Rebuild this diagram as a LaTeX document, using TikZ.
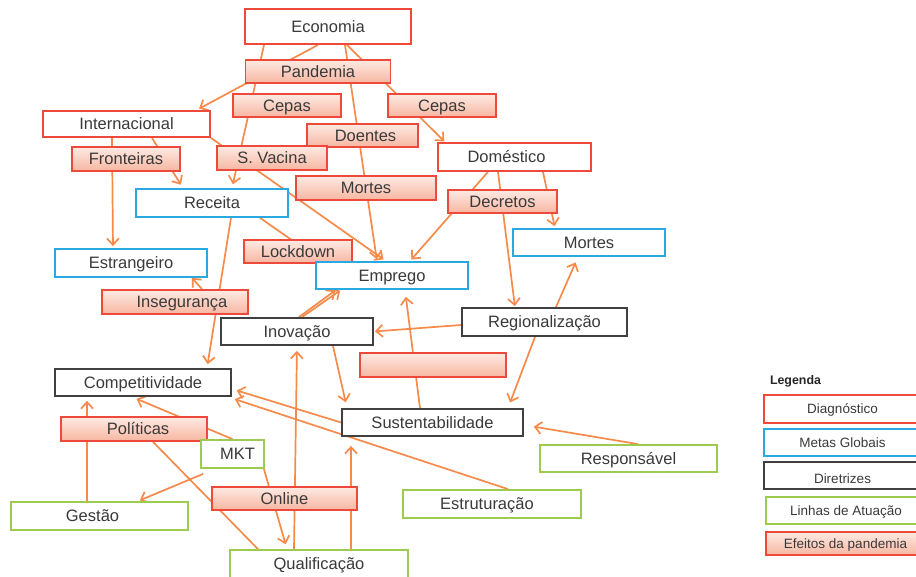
\documentclass[tikz,border=0pt]{standalone}
\usepackage{fontspec}
\setmainfont{Liberation Sans}
\usetikzlibrary{arrows.meta,backgrounds}
\definecolor{cRed}{HTML}{EE4A3C}
\definecolor{cBlue}{HTML}{2AA9E0}
\definecolor{cGreen}{HTML}{9CCB50}
\definecolor{cDark}{HTML}{404040}
\definecolor{cOrange}{HTML}{F68A4A}
\definecolor{cTxt}{HTML}{3A3A3A}
\definecolor{effTop}{HTML}{FDEAE3}
\definecolor{effBot}{HTML}{F7B6A1}
\tikzset{
 box/.style={rectangle, line width=1.8pt, inner sep=0pt, text height=11.8pt, text depth=0pt, text=cTxt, font=\fontsize{16.5}{19}\selectfont, fill=white},
 diag/.style={box, draw=cRed},
 meta/.style={box, draw=cBlue},
 dirz/.style={box, draw=cDark},
 lin/.style={box, draw=cGreen},
 eff/.style={box, draw=cRed, top color=effTop, bottom color=effBot},
 sz/.style 2 args={minimum width=#1pt, minimum height=#2pt},
 leg/.style={font=\fontsize{13.5}{16}\selectfont, text height=9.7pt},
 conn/.style={draw=cOrange, line width=1.7pt},
 arr/.style={conn, -{Straight Barb[length=6.5pt,width=12pt]}, shorten >=2pt},
}
\begin{document}
\begin{tikzpicture}[x=1pt,y=-1pt]
\useasboundingbox (0,0) rectangle (916,577);
\clip (0,0) rectangle (916,577);
% nodes
\node[diag, sz={166}{35}] (eco) at (328,26.5) {Economia};
\node[eff, sz={145}{23}] (pand) at (318,71.5) {Pandemia};
\node[eff, sz={108}{23}] (cep1) at (287,105.5) {Cepas};
\node[eff, sz={108}{23}] (cep2) at (442,105.5) {Cepas};
\node[diag, sz={167}{26}] (intl) at (126.5,124) {Internacional};
\node[eff, sz={111}{23}] (doen) at (362.5,135.5) {\hspace*{6pt}Doentes};
\node[eff, sz={108}{24}] (fron) at (126,159) {Fronteiras};
\node[eff, sz={110}{24}] (svac) at (272,158) {S. Vacina};
\node[diag, sz={153}{28}] (dome) at (514.5,157) {Doméstico\hspace*{16pt}};
\node[eff, sz={140}{24}] (mortE) at (366,188) {Mortes};
\node[eff, sz={109}{23}] (decr) at (502.5,201.5) {Decretos};
\node[meta, sz={152}{28}] (rece) at (212,203) {Receita};
\node[meta, sz={152}{27}] (mortM) at (589,242.5) {Mortes};
\node[eff, sz={108}{23}] (lock) at (298,251.5) {Lockdown};
\node[meta, sz={152}{28}] (estr) at (131,263) {Estrangeiro};
\node[meta, sz={152}{27}] (empr) at (392,275.5) {Emprego};
\node[eff, sz={146}{24}] (inse) at (175,302) {\hspace*{14pt}Insegurança};
\node[dirz, sz={152}{27}] (inov) at (297,331.5) {Inovação};
\node[dirz, sz={165}{28}] (regi) at (544.5,322) {Regionalização};
\node[eff, sz={146}{24}] (empt) at (433,365) {};
\node[dirz, sz={176}{27}] (comp) at (143,382.5) {Competitividade};
\node[dirz, sz={181}{27}] (sust) at (432.5,422.5) {Sustentabilidade};
\node[eff, sz={146}{24}] (poli) at (134,429) {\hspace*{8pt}Políticas};
\node[lin, sz={63}{28}] (mkt) at (232.5,454) {\hspace*{10pt}MKT};
\node[lin, sz={177}{27}] (resp) at (628.5,458.5) {Responsável};
\node[eff, sz={145}{23}] (onli) at (284.5,498.5) {Online};
\node[lin, sz={178}{28}] (estu) at (492,504) {Estruturação\hspace*{10pt}};
\node[lin, sz={177}{28}] (gest) at (99.5,516) {Gestão\hspace*{14pt}};
\node[lin, sz={178}{28}] (qual) at (319,564) {Qualificação};
% legend
\node[font=\bfseries\fontsize{12.4}{14}\selectfont, text=black!85] (legt) at (795.5,381) {Legenda};
\node[diag, leg, sz={157}{28}] (legD) at (842.5,409) {Diagnóstico};
\node[meta, leg, sz={157}{27}] (legM) at (842.5,442.5) {Metas Globais};
\node[dirz, leg, sz={157}{27}] (legR) at (842.5,475.5) {\raisebox{-3.5pt}{Diretrizes}};
\node[lin, leg, sz={160}{27}] (legL) at (846,510.5) {Linhas de Atuação};
\node[eff, leg, sz={159}{23}] (legE) at (845.5,543.5) {Efeitos da pandemia};
% connectors
\begin{pgfonlayer}{background}
\draw[arr, shorten >=4pt] ([xshift=-64pt]eco.south) -- ([xshift=20pt]rece.north);
\draw[arr, shorten >=3pt] ([xshift=-10pt]eco.south) -- ([xshift=70pt]intl.north);
\draw[arr] ([xshift=17pt]eco.south) -- ([xshift=-15pt]empr.north);
\draw[arr, shorten >=1pt] ([xshift=19pt]eco.south) -- ([xshift=-69.5pt]dome.north);
\draw[arr] ([xshift=-14.5pt]intl.south) -- ([xshift=-18pt]estr.north);
\draw[arr, shorten >=4pt] ([xshift=25.5pt]intl.south) -- ([xshift=-29pt]rece.north);
\draw[arr, shorten >=3pt] (intl.south east) -- ([xshift=-6pt]empr.north);
\draw[arr] ([xshift=48pt]rece.south) -- ([xshift=7pt]empr.north west);
\draw[arr, shorten >=4pt] ([xshift=19pt]rece.south) -- ([xshift=64pt]comp.north);
\draw[arr, shorten >=0pt] ([xshift=27pt]inse.north) -- ([xshift=61pt]estr.south);
\draw[arr] ([xshift=-26.5pt]dome.south) -- ([xshift=18pt]empr.north);
\draw[arr, shorten >=1pt] ([xshift=-16.5pt]dome.south) -- ([xshift=-29.5pt]regi.north);
\draw[arr] ([xshift=28.5pt]dome.south) -- ([xshift=-34pt]mortM.north);
\draw[arr, shorten >=6pt] ([xshift=11.5pt]regi.north) -- ([xshift=-11pt]mortM.south);
\draw[arr, shorten >=1pt] ([yshift=-3pt]regi.west) -- (inov.east);
\draw[arr, shorten >=6pt] ([xshift=-9.5pt]regi.south) -- ([xshift=75.5pt]sust.north);
\draw[arr, shorten >=1pt] ([xshift=2pt]inov.north) -- ([xshift=-56pt]empr.south);
\draw[arr, shorten >=1pt] ([xshift=5pt]inov.north) -- ([xshift=-51pt]empr.south);
\draw[arr, shorten >=6pt] ([xshift=36pt]inov.south) -- ([xshift=-85.5pt]sust.north);
\draw[arr, shorten >=7pt] ([xshift=-12.5pt]sust.north) -- ([xshift=13pt]empr.south);
\draw[arr, shorten >=5pt] (sust.west) -- ([yshift=-6.5pt]comp.east);
\draw[arr, shorten >=1pt] ([xshift=16pt]estu.north) -- ([shift={(2pt,-2pt)}]comp.south east);
\draw[arr, shorten >=10pt] ([xshift=9.5pt]resp.north) -- ([yshift=-2.5pt]sust.east);
\draw[arr, shorten >=9pt] ([xshift=32pt]qual.north) -- ([xshift=-81.5pt]sust.south);
\draw[arr, shorten >=5pt] ([xshift=-25pt]qual.north) -- (inov.south);
\draw[arr, shorten >=4pt] ([xshift=-12.5pt]gest.north) -- ([xshift=-56pt]comp.south);
\draw[arr, shorten >=5pt] (mkt.north) -- ([xshift=-11pt]comp.south);
\draw[arr, shorten >=2pt] ([shift={(3pt,-5pt)}]mkt.south west) -- ([xshift=38.5pt]gest.north);
\draw[conn] ([xshift=19pt]poli.south) -- ([xshift=-61pt]qual.north);
\draw[arr, shorten >=5pt] ([xshift=-1pt]mkt.south east) -- ([xshift=-32pt]qual.north);
\end{pgfonlayer}
\end{tikzpicture}
\end{document}
